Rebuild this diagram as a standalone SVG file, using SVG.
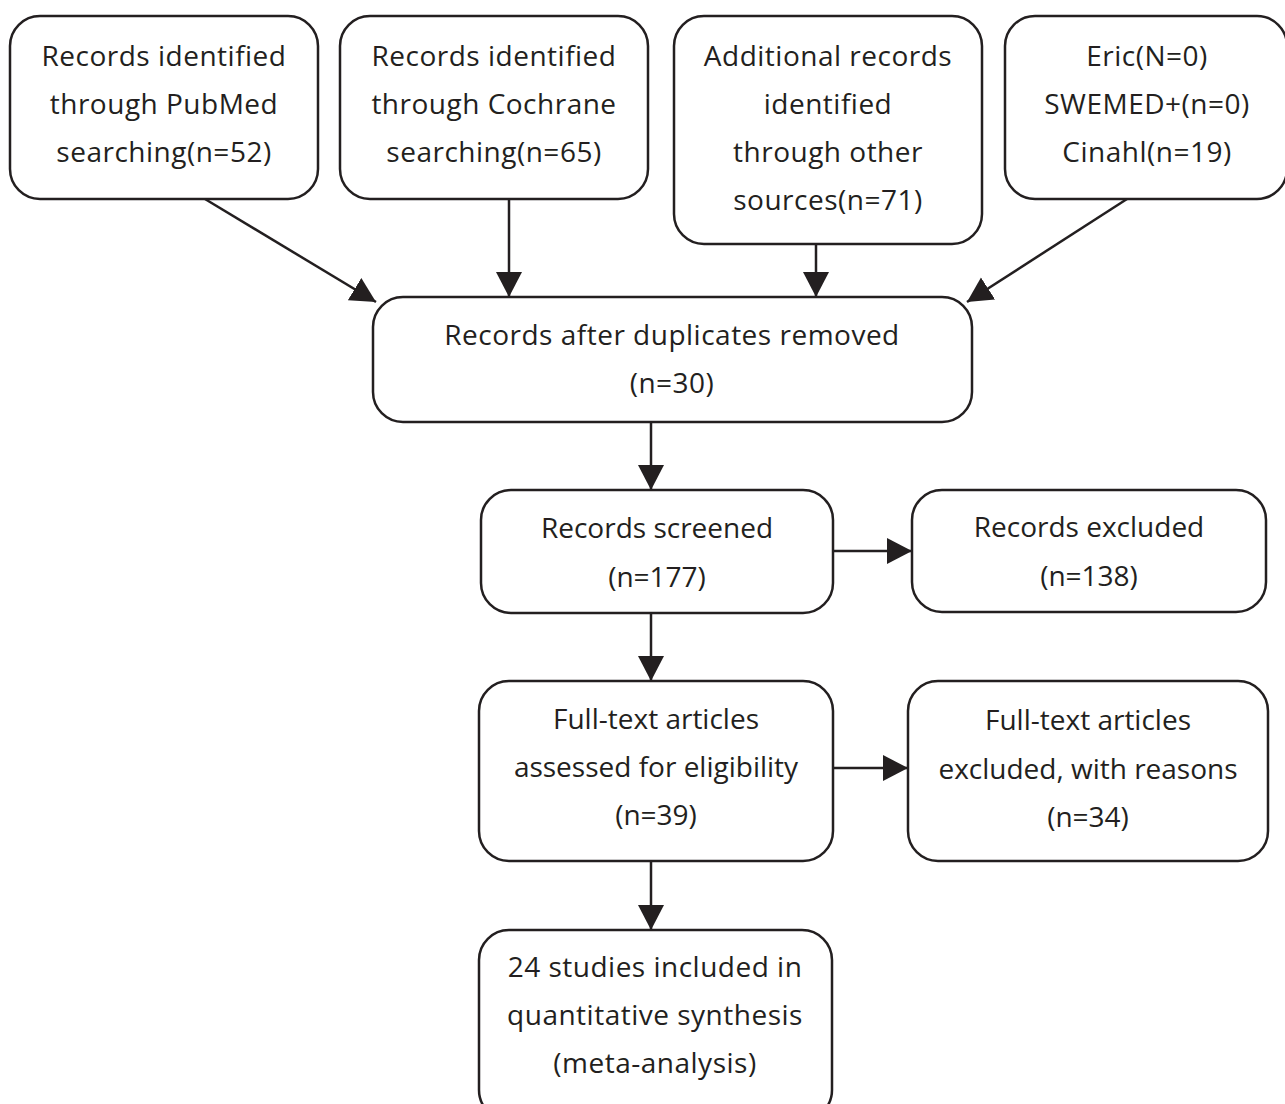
<svg xmlns="http://www.w3.org/2000/svg" width="1285" height="1104" viewBox="0 0 1285 1104">
<style>
.box{fill:#fff;stroke:#231f20;stroke-width:2.5}
.t{font-family:"Open Sans","Noto Sans","Liberation Sans",sans-serif;font-size:28px;letter-spacing:0.5px;fill:#231f20;text-anchor:middle}
.n{letter-spacing:0px}
.c{stroke:#231f20;stroke-width:2.5;fill:none}
</style>
<defs>
<marker id="ah" markerUnits="userSpaceOnUse" markerWidth="27" markerHeight="27" refX="25" refY="13" orient="auto" viewBox="0 0 27 27">
<path d="M0,0 L25,13 L0,26 Z" fill="#231f20"/>
</marker>
</defs>
<rect width="1285" height="1104" fill="#fff"/>
<g id="connectors">
<line class="c" x1="205" y1="199" x2="376" y2="302" marker-end="url(#ah)"/>
<line class="c" x1="509" y1="199" x2="509" y2="297" marker-end="url(#ah)"/>
<line class="c" x1="816" y1="244" x2="816" y2="297" marker-end="url(#ah)"/>
<line class="c" x1="1127" y1="199" x2="967" y2="302" marker-end="url(#ah)"/>
<line class="c" x1="651" y1="422" x2="651" y2="490" marker-end="url(#ah)"/>
<line class="c" x1="833" y1="551" x2="912" y2="551" marker-end="url(#ah)"/>
<line class="c" x1="651" y1="613" x2="651" y2="681" marker-end="url(#ah)"/>
<line class="c" x1="833" y1="768" x2="908" y2="768" marker-end="url(#ah)"/>
<line class="c" x1="651" y1="861" x2="651" y2="930" marker-end="url(#ah)"/>
</g>
<g id="pubmed">
<rect class="box" x="10" y="16" width="308" height="183" rx="30"/>
<text class="t" x="164" y="66">Records identified</text>
<text class="t" x="164" y="114">through PubMed</text>
<text class="t" x="164" y="162">searching(n=52)</text>
</g>
<g id="cochrane">
<rect class="box" x="340" y="16" width="308" height="183" rx="30"/>
<text class="t" x="494" y="66">Records identified</text>
<text class="t" x="494" y="114">through Cochrane</text>
<text class="t" x="494" y="162">searching(n=65)</text>
</g>
<g id="other">
<rect class="box" x="674" y="16" width="308" height="228" rx="30"/>
<text class="t" x="828" y="66">Additional records</text>
<text class="t" x="828" y="114">identified</text>
<text class="t" x="828" y="162">through other</text>
<text class="t" x="828" y="210">sources(n=71)</text>
</g>
<g id="databases">
<rect class="box" x="1005" y="16" width="282" height="183" rx="30"/>
<text class="t" x="1147" y="66">Eric(N=0)</text>
<text class="t" x="1147" y="114">SWEMED+(n=0)</text>
<text class="t" x="1147" y="162">Cinahl(n=19)</text>
</g>
<g id="duplicates">
<rect class="box" x="373" y="297" width="599" height="125" rx="30"/>
<text class="t" x="672" y="345">Records after duplicates removed</text>
<text class="t" x="672" y="393">(n=30)</text>
</g>
<g id="screened">
<rect class="box" x="481" y="490" width="352" height="123" rx="30"/>
<text class="t n" x="657" y="538">Records screened</text>
<text class="t n" x="657" y="587">(n=177)</text>
</g>
<g id="excluded">
<rect class="box" x="912" y="490" width="354" height="122" rx="30"/>
<text class="t n" x="1089" y="537">Records excluded</text>
<text class="t n" x="1089" y="586">(n=138)</text>
</g>
<g id="fulltext">
<rect class="box" x="479" y="681" width="354" height="180" rx="30"/>
<text class="t n" x="656" y="729">Full-text articles</text>
<text class="t n" x="656" y="777">assessed for eligibility</text>
<text class="t n" x="656" y="825">(n=39)</text>
</g>
<g id="ftexcluded">
<rect class="box" x="908" y="681" width="360" height="180" rx="30"/>
<text class="t n" x="1088" y="730">Full-text articles</text>
<text class="t n" x="1088" y="779">excluded, with reasons</text>
<text class="t n" x="1088" y="827">(n=34)</text>
</g>
<g id="included">
<rect class="box" x="479" y="930" width="353" height="190" rx="30"/>
<text class="t" x="655" y="977">24 studies included in</text>
<text class="t" x="655" y="1025">quantitative synthesis</text>
<text class="t" x="655" y="1073">(meta-analysis)</text>
</g>
</svg>
